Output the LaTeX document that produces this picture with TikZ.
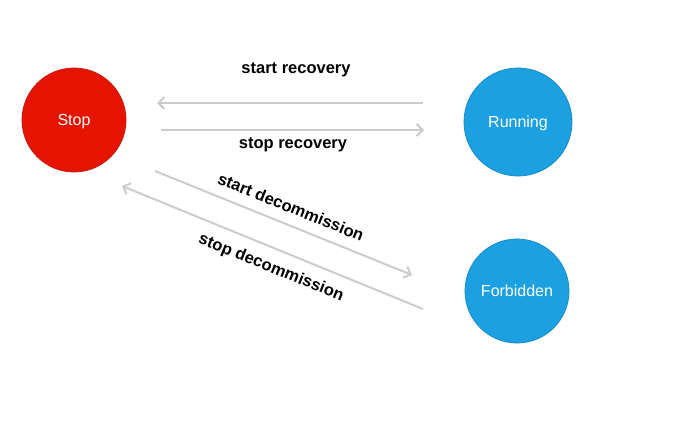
\documentclass[tikz,border=0pt]{standalone}
\usepackage{fontspec}
\setmainfont{Liberation Sans}
\usetikzlibrary{arrows.meta}
\definecolor{stopred}{HTML}{E51400}
\definecolor{stopborder}{HTML}{C81A0C}
\definecolor{runblue}{HTML}{1BA1E2}
\definecolor{runborder}{HTML}{1A8AC4}
\definecolor{arrowgrey}{HTML}{CCCCCC}
\tikzset{
  state/.style={circle, minimum size=#1, inner sep=0pt, text=white, text height=11.5pt, text depth=0pt, font=\fontsize{16}{18}\selectfont},
  redstate/.style={state=104pt, fill=stopred, draw=stopborder, line width=0.8pt},
  bluestate/.style={state=#1, fill=runblue, draw=runborder, line width=0.8pt},
  conn/.style={draw=arrowgrey, line width=2pt, -{Straight Barb[length=6pt,width=12pt,line width=2pt]}},
  lbl/.style={font=\bfseries\fontsize{16.5}{18}\selectfont, text=black, inner sep=0pt}
}
\begin{document}
\begin{tikzpicture}[x=1pt,y=-1pt]
\useasboundingbox (0,0) rectangle (690,429);
\fill[white] (0,0) rectangle (690,429);
\node[redstate] (stop) at (74,120) {Stop};
\node[bluestate=108pt] (running) at (518,122) {Running};
\node[bluestate=104pt] (forbidden) at (517,291) {Forbidden};
\coordinate (sr1) at (423,103);
\coordinate (sr2) at (157,103);
\coordinate (pr1) at (161,130);
\coordinate (pr2) at (424,130);
\coordinate (sd1) at (155,171);
\coordinate (sd2) at (412,275);
\coordinate (pd1) at (423,309);
\coordinate (pd2) at (122,186);
\draw[conn] (sr1) -- (sr2);
\draw[conn] (pr1) -- (pr2);
\draw[conn] (sd1) -- (sd2);
\draw[conn] (pd1) -- (pd2);
\node[lbl] (lsr) at (296,70) {start recovery};
\node[lbl] (lpr) at (293,145) {stop recovery};
\node[lbl, rotate=-22] (lsd) at (291,207) {start decommission};
\node[lbl, rotate=-22] (lpd) at (271,268) {stop decommission};
\end{tikzpicture}
\end{document}
